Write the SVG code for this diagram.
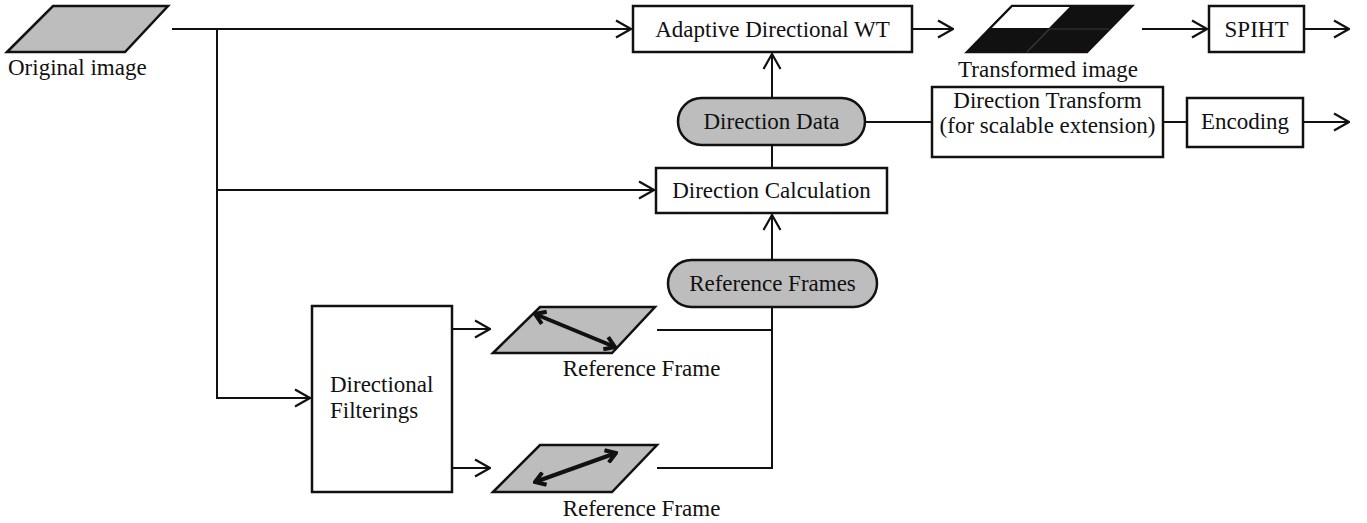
<svg xmlns="http://www.w3.org/2000/svg" width="1367" height="523" viewBox="0 0 1367 523">
<style>
text{font-family:'Liberation Serif','Tinos','Times New Roman','DejaVu Serif',serif;font-size:23px;fill:#111}
.c{text-anchor:middle}
.box{fill:#fff;stroke:#111;stroke-width:2.5}
.pill{fill:#bdbdbd;stroke:#111;stroke-width:2.5}
.img{fill:#bdbdbd;stroke:#111;stroke-width:2.5;stroke-linejoin:miter}
.ln{fill:none;stroke:#111;stroke-width:2}
.thick{fill:none;stroke:#111;stroke-width:4}
</style>
<defs>
<marker id="ah" markerUnits="userSpaceOnUse" viewBox="0 0 18 20" refX="17" refY="10" markerWidth="18" markerHeight="20" orient="auto">
<path d="M2,1.5 L17,10 L2,18.5" fill="none" stroke="#111" stroke-width="2.2"/>
</marker>
<marker id="th" markerUnits="userSpaceOnUse" viewBox="0 0 14 16" refX="12" refY="8" markerWidth="14" markerHeight="16" orient="auto-start-reverse">
<path d="M2,1.5 L12,8 L2,14.5" fill="none" stroke="#111" stroke-width="4"/>
</marker>
</defs>

<g id="connectors">
<path class="ln" d="M172,29 H631" marker-end="url(#ah)"/>
<path class="ln" d="M217,29 V398 H310" marker-end="url(#ah)"/>
<path class="ln" d="M217,190 H654" marker-end="url(#ah)"/>
<path class="ln" d="M912,29 H953" marker-end="url(#ah)"/>
<path class="ln" d="M1142,29 H1207" marker-end="url(#ah)"/>
<path class="ln" d="M1304,29 H1349" marker-end="url(#ah)"/>
<path class="ln" d="M772,98 V54" marker-end="url(#ah)"/>
<path class="ln" d="M772,145 V168"/>
<path class="ln" d="M865,122 H932"/>
<path class="ln" d="M1163,122 H1187"/>
<path class="ln" d="M1303,122 H1349" marker-end="url(#ah)"/>
<path class="ln" d="M772,260 V215" marker-end="url(#ah)"/>
<path class="ln" d="M772,307 V468 H657"/>
<path class="ln" d="M772,330 H657"/>
<path class="ln" d="M452,329 H490" marker-end="url(#ah)"/>
<path class="ln" d="M452,468 H490" marker-end="url(#ah)"/>
</g>

<g id="original-image">
<polygon class="img" points="7,52 53,6 168,6 125,52"/>
<text x="8" y="75">Original image</text>
</g>

<g id="adaptive-directional-wt">
<rect class="box" x="633" y="6" width="279" height="46"/>
<text class="c" x="772.5" y="37">Adaptive Directional WT</text>
</g>

<g id="transformed-image">
<polygon points="967,52 1012,6 1132,6 1087,52" fill="#111" stroke="#111" stroke-width="2.5"/>
<polygon points="1012,6 1072,6 1049.5,29 989.5,29" fill="#fff" stroke="#111" stroke-width="2"/>
<path d="M1049.5,29 H1109.5 M1049.5,29 L1027,52" stroke="#3a3a3a" stroke-width="1.2" fill="none"/>
<text class="c" x="1048" y="77">Transformed image</text>
</g>

<g id="spiht">
<rect class="box" x="1209" y="6" width="95" height="46"/>
<text class="c" x="1256.5" y="37">SPIHT</text>
</g>

<g id="direction-data">
<rect class="pill" x="678" y="98" width="187" height="47" rx="23.5" ry="23.5"/>
<text class="c" x="771.5" y="129">Direction Data</text>
</g>

<g id="direction-transform">
<rect class="box" x="932" y="87" width="231" height="70"/>
<text class="c" x="1047.5" y="108">Direction Transform</text>
<text class="c" x="1047.5" y="133">(for scalable extension)</text>
</g>

<g id="encoding">
<rect class="box" x="1187" y="98" width="116" height="49"/>
<text class="c" x="1245" y="129">Encoding</text>
</g>

<g id="direction-calculation">
<rect class="box" x="656" y="168" width="231" height="45"/>
<text class="c" x="771.5" y="198">Direction Calculation</text>
</g>

<g id="reference-frames">
<rect class="pill" x="668" y="260" width="209" height="47" rx="23.5" ry="23.5"/>
<text class="c" x="772.5" y="291">Reference Frames</text>
</g>

<g id="directional-filterings">
<rect class="box" x="312" y="306" width="140" height="186"/>
<text x="330" y="392">Directional</text>
<text x="330" y="418">Filterings</text>
</g>

<g id="reference-frame-1">
<polygon class="img" points="493,353 540,307 655,307 612,353"/>
<path class="thick" d="M535,314 L615,347" marker-start="url(#th)" marker-end="url(#th)"/>
<text class="c" x="641.5" y="376">Reference Frame</text>
</g>

<g id="reference-frame-2">
<polygon class="img" points="493,492 540,445 657,445 612,492"/>
<path class="thick" d="M535,482 L616,453" marker-start="url(#th)" marker-end="url(#th)"/>
<text class="c" x="641.5" y="516">Reference Frame</text>
</g>
</svg>
